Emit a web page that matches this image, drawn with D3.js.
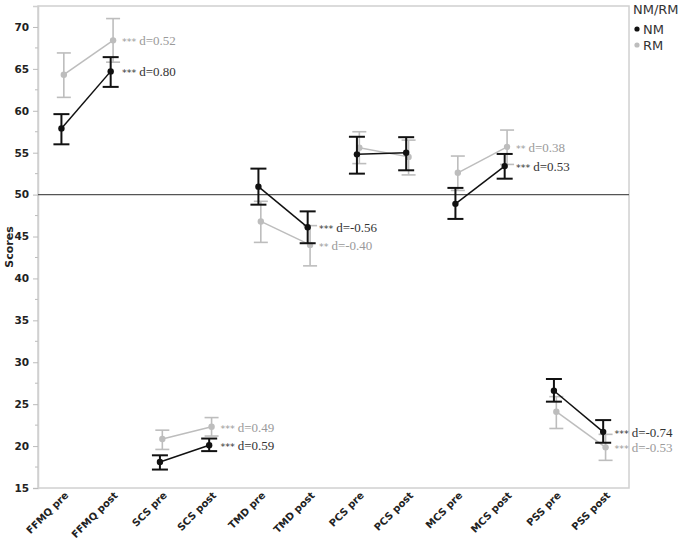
<!DOCTYPE html>
<html><head><meta charset="utf-8">
<script src="https://cdn.jsdelivr.net/npm/d3@7"></script>
<style>body{margin:0;background:#fff}</style>
</head><body>
<svg id="chart" width="685" height="540"></svg>
<script>
const categories = ["FFMQ pre","FFMQ post","SCS pre","SCS post","TMD pre","TMD post","PCS pre","PCS post","MCS pre","MCS post","PSS pre","PSS post"];
const nmMean = [57.9, 64.7, 18.1, 20.1, 50.95, 46.1, 54.8, 55.0, 48.9, 53.4, 26.6, 21.7];
const nmLow  = [56.0, 62.85, 17.2, 19.4, 48.8, 44.2, 52.5, 52.9, 47.1, 51.9, 25.3, 20.4];
const nmHigh = [59.6, 66.4, 18.9, 20.9, 53.1, 48.0, 56.9, 56.85, 50.8, 54.85, 28.0, 23.1];
const rmMean = [64.3, 68.4, 20.85, 22.3, 46.8, 44.0, 55.6, 54.5, 52.6, 55.7, 24.1, 19.85];
const rmLow  = [61.6, 65.8, 19.6, 21.2, 44.3, 41.5, 53.7, 52.35, 50.5, 53.6, 22.1, 18.3];
const rmHigh = [66.9, 71.0, 21.9, 23.4, 49.2, 46.3, 57.5, 56.5, 54.6, 57.7, 25.9, 21.4];
const nmStars = ["***","***","***",null,"***","***"];
const nmD = ["d=0.80","d=0.59","d=-0.56",null,"d=0.53","d=-0.74"];
const rmStars = ["***","***","**",null,"**","***"];
const rmD = ["d=0.52","d=0.49","d=-0.40",null,"d=0.38","d=-0.53"];
const yTicks = [15,20,25,30,35,40,45,50,55,60,65,70];
const refValue = 50;
const groups = ["NM","RM"];

const svg = d3.select("#chart");
const m = {l:38, r:629, t:6, b:488};
const x = d3.scalePoint().domain(categories).range([m.l, m.r]).padding(0.5);
const y = d3.scaleLinear().domain([15, 72.5]).range([m.b, m.t]);
const sans = "DejaVu Sans, Verdana, sans-serif";

const frameColor = "#d0d0d0";
svg.append("rect").attr("x", m.l).attr("y", m.t).attr("width", m.r-m.l).attr("height", m.b-m.t)
  .attr("fill","none").attr("stroke", frameColor).attr("stroke-width", 1.5);

// minor ticks
const minor = d3.range(17.5, 72.5, 5);
svg.append("g").selectAll("line").data(minor).join("line")
  .attr("x1", m.l-3).attr("x2", m.l).attr("y1", d=>y(d)).attr("y2", d=>y(d))
  .attr("stroke", "#bbb").attr("stroke-width", 1);

// y axis
const yAxis = svg.append("g").attr("transform", `translate(${m.l},0)`)
  .call(d3.axisLeft(y).tickValues(yTicks).tickSize(5).tickPadding(4));
yAxis.select(".domain").attr("stroke", frameColor).attr("stroke-width", 1.5);
yAxis.selectAll(".tick line").attr("stroke", "#bbb");
yAxis.selectAll("text").attr("font-family", sans).attr("font-weight","bold")
  .attr("font-size", 10.5).attr("fill", "#222");

// x axis
const xAxis = svg.append("g").attr("transform", `translate(0,${m.b})`)
  .call(d3.axisBottom(x).tickSize(0).tickPadding(0));
xAxis.select(".domain").remove();
xAxis.selectAll("text").attr("font-family", sans).attr("font-weight","bold")
  .attr("font-size", 10).attr("fill", "#222")
  .attr("text-anchor","end").attr("y", 0).attr("dy", 0)
  .attr("transform","translate(6,8) rotate(-45)");

// y label
svg.append("text").attr("transform", `translate(13,${(m.t+m.b)/2}) rotate(-90)`)
  .attr("text-anchor","middle").attr("font-family", sans)
  .attr("font-weight","bold").attr("font-size", 11).attr("fill","#222").text("Scores");

// reference line
svg.append("line").attr("x1", m.l).attr("x2", m.r).attr("y1", y(refValue)).attr("y2", y(refValue))
  .attr("stroke", "#555").attr("stroke-width", 1.3);

const series = [
  {name:"RM", mean: rmMean, low: rmLow, high: rmHigh, color:"#bdbdbd", text:"#9a9a9a", dx: 1.2, lw: 1.6, cap: 7, stars: rmStars, d: rmD},
  {name:"NM", mean: nmMean, low: nmLow, high: nmHigh, color:"#111", text:"#333", dx: -1.2, lw: 2, cap: 8, stars: nmStars, d: nmD}
];

series.forEach(s => {
  const g = svg.append("g");
  const nMeasures = categories.length/2;
  for (let k=0; k<nMeasures; k++) {
    const i0 = 2*k, i1 = 2*k+1;
    g.append("line")
      .attr("x1", x(categories[i0])+s.dx).attr("y1", y(s.mean[i0]))
      .attr("x2", x(categories[i1])+s.dx).attr("y2", y(s.mean[i1]))
      .attr("stroke", s.color).attr("stroke-width", 1.5);
  }
  categories.forEach((c,i) => {
    const cx = x(c)+s.dx;
    g.append("line").attr("x1",cx).attr("x2",cx).attr("y1",y(s.low[i])).attr("y2",y(s.high[i]))
      .attr("stroke", s.color).attr("stroke-width", s.lw);
    [s.low[i], s.high[i]].forEach(v => {
      g.append("line").attr("x1",cx-s.cap).attr("x2",cx+s.cap).attr("y1",y(v)).attr("y2",y(v))
        .attr("stroke", s.color).attr("stroke-width", s.lw);
    });
    g.append("circle").attr("cx",cx).attr("cy",y(s.mean[i])).attr("r",3.2).attr("fill", s.color);
  });
  for (let k=0; k<nMeasures; k++) {
    if (!s.d[k]) continue;
    const i1 = 2*k+1;
    const t = g.append("text").attr("x", x(categories[i1]) + 10).attr("y", y(s.mean[i1]) + 5)
      .attr("fill", s.text);
    t.append("tspan").attr("font-family","DejaVu Sans, sans-serif").attr("font-size", 9.5).text(s.stars[k]+" ");
    t.append("tspan").attr("font-family","Liberation Serif, DejaVu Serif, serif").attr("font-size", 13).text(s.d[k]);
  }
});

// legend
const lg = svg.append("g");
lg.append("text").attr("x", 633).attr("y", 14).attr("font-family", sans)
  .attr("font-size", 13).attr("fill","#333").text("NM/RM");
[{n:"NM", c:"#111"},{n:"RM", c:"#bdbdbd"}].forEach((d,i) => {
  lg.append("circle").attr("cx", 637).attr("cy", 29 + i*16).attr("r", 2.6).attr("fill", d.c);
  lg.append("text").attr("x", 643).attr("y", 34 + i*16).attr("font-family", sans)
    .attr("font-size", 13).attr("fill","#333").text(d.n);
});
</script>
</body></html>
